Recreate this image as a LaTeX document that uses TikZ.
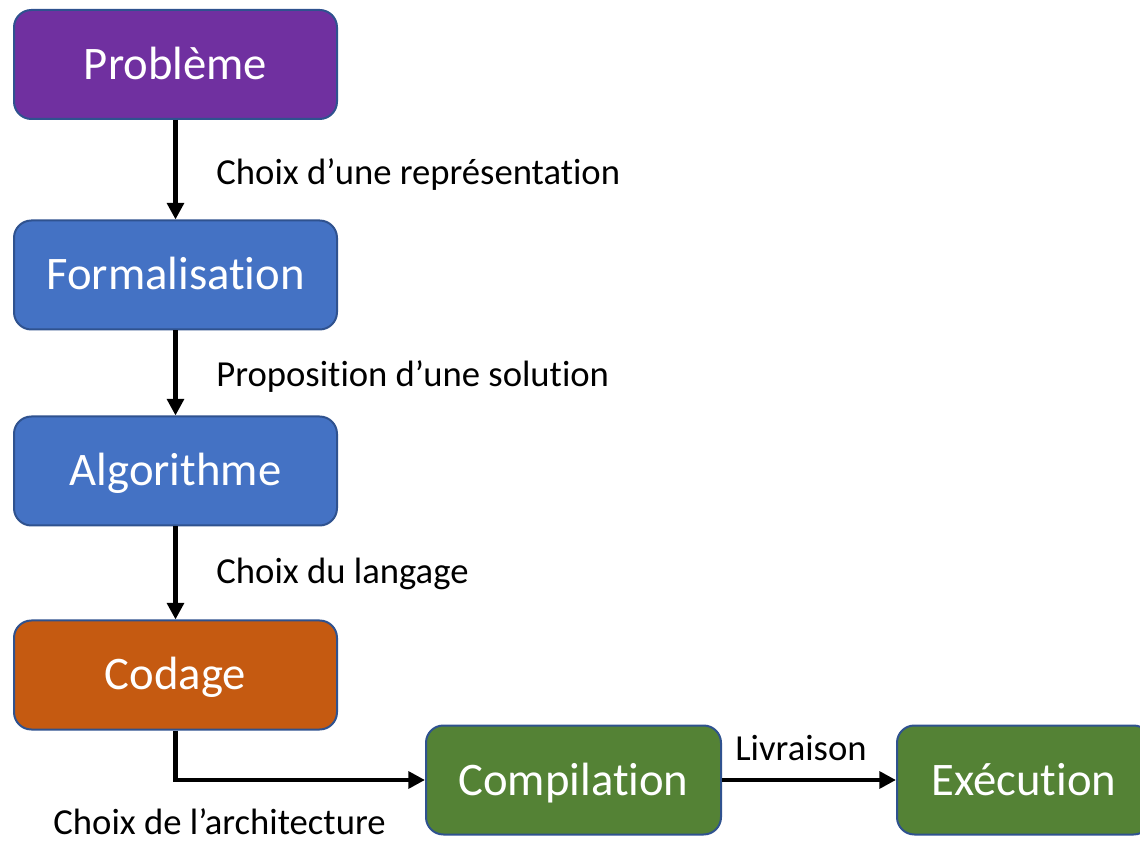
\documentclass[tikz,border=0pt]{standalone}
\usepackage{fontspec}
\setmainfont{Carlito}[RawFeature={-liga;-clig;-calt;-dlig;-rlig}]
\usetikzlibrary{arrows.meta, positioning}

\definecolor{probcol}{HTML}{7030A0}
\definecolor{formcol}{HTML}{4472C4}
\definecolor{codecol}{HTML}{C55A11}
\definecolor{execcol}{HTML}{548235}
\definecolor{edgecol}{HTML}{2F528F}

\begin{document}
\begin{tikzpicture}[x=0.75pt, y=-0.75pt,
    box/.style={draw=edgecol, line width=1.5pt, rounded corners=13pt, text=white,
        font=\fontsize{35}{42}\selectfont, minimum height=81.75pt, inner sep=0pt,
        text height=22.5pt, text depth=0pt},
    flow/.style={line width=3.4pt, -{Triangle[length=12.5pt, width=12.5pt]}},
    lbl/.style={font=\fontsize{27.5}{33}\selectfont, inner sep=0pt,
        text height=17.7pt, text depth=0pt}]

    \useasboundingbox (0,0) rectangle (1140,841);

    % Column of steps
    \def\colx{175.5}
    \def\colw{242.25pt}

    \node[box, fill=probcol, minimum width=\colw] (prob) at (\colx, 64.5) {Problème};
    \node[box, fill=formcol, minimum width=\colw] (form) at (\colx, 275) {Formalisation};
    \node[box, fill=formcol, minimum width=\colw] (algo) at (\colx, 471) {Algorithme};
    \node[box, fill=codecol, minimum width=\colw] (code) at (\colx, 675) {Codage};

    % Bottom row
    \node[box, fill=execcol, minimum width=221.25pt] (comp) at (573.5, 780) {Compilation};
    \node[box, fill=execcol, minimum width=190.5pt] (exec) at (1024, 780) {Exécution};

    % Arrows with their labels
    \draw[flow] (prob) -- node[lbl, anchor=west, xshift=29pt, yshift=-2pt] {Choix d’une représentation} (form);
    \draw[flow] (form) -- node[lbl, anchor=west, xshift=29pt, yshift=-1pt] {Proposition d’une solution} (algo);
    \draw[flow] (algo) -- node[lbl, anchor=west, xshift=29pt, yshift=1pt] {Choix du langage} (code);
    \draw[flow] (code.south) |- node[lbl, anchor=base, xshift=33pt, yshift=-41pt] {Choix de l’architecture} (comp.west);
    \draw[flow] (comp) -- node[lbl, anchor=south, xshift=-6pt, yshift=12.75pt] {Livraison} (exec);

\end{tikzpicture}
\end{document}
